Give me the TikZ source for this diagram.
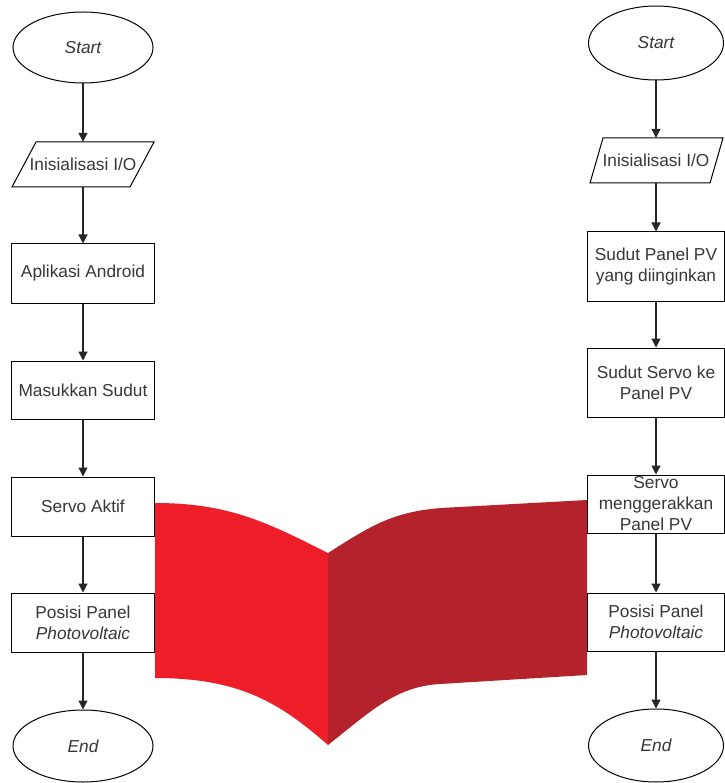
\documentclass[tikz,border=0pt]{standalone}
\usepackage{fontspec}
\setmainfont{Liberation Sans}
\usetikzlibrary{shapes.geometric,arrows.meta}
\definecolor{pageL}{RGB}{237,30,40}
\definecolor{pageR}{RGB}{180,35,43}
\definecolor{txt}{RGB}{55,55,55}
\tikzset{
  base/.style={font=\fontsize{17.3}{21}\selectfont, text=txt, inner sep=0pt, align=center},
  term/.style={base, ellipse, draw=black, line width=1pt, font=\fontsize{17.3}{21}\selectfont\itshape},
  proc/.style={base, rectangle, draw=black, line width=1pt},
  iobox/.style={base, minimum height=45pt},
  flow/.style={draw=black!85, line width=1.2pt, -{Triangle[width=9pt,length=9pt]}},
  io/.style={draw=black, line width=1pt, fill=white}
}
\begin{document}
\begin{tikzpicture}[x=1pt,y=-1pt]
\useasboundingbox (0,0) rectangle (724,783);
\fill[white] (0,0) rectangle (724,783);
% red book
\fill[pageL] (155,503) .. controls (230,503) and (268,523) .. (328,553)
  -- (328,745) .. controls (280,703) and (240,678) .. (155,678) -- cycle;
\fill[pageR] (328,553) .. controls (372,525) and (395,510) .. (450,507.5)
  -- (587,500) -- (587,675) -- (440,684) .. controls (395,686.5) and (370,712) .. (328,745) -- cycle;
% left column
\node[term, minimum width=140pt, minimum height=71pt] (ls) at (83,47.5) {Start};
\draw[io] (12,187) -- (36,142) -- (154,142) -- (130,187) -- cycle;
\node[iobox, minimum width=118pt] (li) at (83,164.5) {Inisialisasi I/O};
\node[proc, minimum width=143pt, minimum height=59pt] (la) at (83,273.5) {Aplikasi Android};
\node[proc, minimum width=143pt, minimum height=58pt] (lm) at (83,390) {Masukkan Sudut};
\node[proc, minimum width=143pt, minimum height=59pt] (lv) at (83,506.5) {Servo Aktif};
\node[proc, minimum width=143pt, minimum height=59pt] (lp) at (83,622.5) {Posisi Panel\\\textit{Photovoltaic}};
\node[term, minimum width=140pt, minimum height=72pt] (le) at (83,746) {End};
\draw[flow] (ls) -- (li);
\draw[flow] (li) -- (la);
\draw[flow] (la) -- (lm);
\draw[flow] (lm) -- (lv);
\draw[flow] (lv) -- (lp);
\draw[flow] (lp) -- (le);
% right column
\node[term, minimum width=135pt, minimum height=74pt] (rs) at (656,43) {Start};
\draw[io] (590,183) -- (603,138) -- (723,138) -- (710,183) -- cycle;
\node[iobox, minimum width=120pt] (ri) at (656,160.5) {Inisialisasi I/O};
\node[proc, minimum width=137pt, minimum height=69pt] (ra) at (656,266.5) {Sudut Panel PV\\yang diinginkan};
\node[proc, minimum width=137pt, minimum height=69pt] (rb) at (656,382.5) {Sudut Servo ke\\Panel PV};
\node[proc, minimum width=137pt, minimum height=58pt] (rc) at (656,504) {Servo\\menggerakkan\\Panel PV};
\node[proc, minimum width=137pt, minimum height=58pt] (rp) at (656,622) {Posisi Panel\\\textit{Photovoltaic}};
\node[term, minimum width=135pt, minimum height=73pt] (re) at (656,745.5) {End};
\draw[flow] (rs) -- (ri);
\draw[flow] (ri) -- (ra);
\draw[flow] (ra) -- (rb);
\draw[flow] (rb) -- (rc);
\draw[flow] (rc) -- (rp);
\draw[flow] (rp) -- (re);
\end{tikzpicture}
\end{document}
